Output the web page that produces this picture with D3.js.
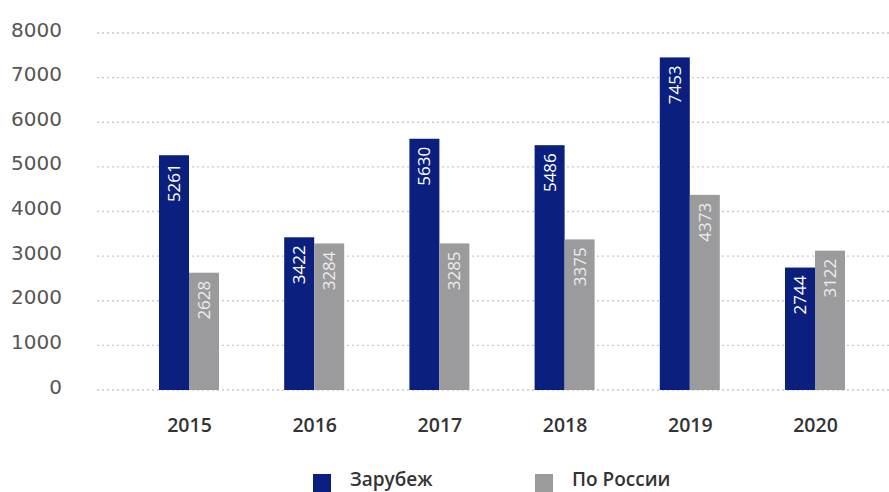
<!DOCTYPE html>
<html><head><meta charset="utf-8">
<script src="https://cdn.jsdelivr.net/npm/d3@7"></script>
<style>body{margin:0;background:#fff;}svg{display:block;}</style>
</head><body>
<svg id="c" width="889" height="492"></svg>
<script>
const years = ["2015","2016","2017","2018","2019","2020"];
const seriesNames = ["Зарубеж","По России"];
const abroad = [5261,3422,5630,5486,7453,2744];
const russia = [2628,3284,3285,3375,4373,3122];
const yTicks = [0,1000,2000,3000,4000,5000,6000,7000,8000];
const colors = ["#0b1f7e","#9b9b9d"];
const labelColors = ["#ffffff","#ececec"];

const svg = d3.select("#c");
const font = "'Open Sans', 'DejaVu Sans', sans-serif";
const y = d3.scaleLinear().domain([0,8000]).range([390,33]);
const x = d3.scalePoint().domain(years).range([189,815]);
const xs = d3.scaleBand().domain(seriesNames).range([-30,30]).padding(0);

// grid
svg.append("g").selectAll("line").data(yTicks).join("line")
  .attr("x1",97).attr("x2",889)
  .attr("y1",d=>y(d)).attr("y2",d=>y(d))
  .attr("stroke","#c8c8c8").attr("stroke-width",1.3).attr("stroke-dasharray","2,3");

// y axis labels
const yAxis = d3.axisLeft(y).tickValues(yTicks).tickSize(0).tickPadding(0).tickFormat(d3.format("d"));
const gy = svg.append("g").attr("transform","translate(62,0)").call(yAxis);
gy.select(".domain").remove();
gy.selectAll("text").attr("font-family","'DejaVu Sans', sans-serif").attr("font-size",20).attr("fill","#555").attr("dy","0.35em").attr("y",-4);

// x axis labels
const xAxis = d3.axisBottom(x).tickSize(0).tickPadding(0);
const gx = svg.append("g").attr("transform","translate(0,418)").call(xAxis);
gx.select(".domain").remove();
gx.selectAll("text").attr("font-family",font).attr("font-size",19.5).attr("font-weight",600).attr("fill","#333").attr("dy","0.35em").attr("y",7);

const data = [abroad, russia];
seriesNames.forEach((s,si)=>{
  const g = svg.append("g");
  g.selectAll("rect").data(years).join("rect")
    .attr("x",d=>x(d)+xs(s))
    .attr("width",xs.bandwidth())
    .attr("y",(d,i)=>y(data[si][i]))
    .attr("height",(d,i)=>y(0)-y(data[si][i]))
    .attr("fill",colors[si]);
  g.selectAll("text").data(years).join("text")
    .attr("transform",(d,i)=>`translate(${x(d)+xs(s)+xs.bandwidth()/2},${y(data[si][i])+8}) rotate(-90)`)
    .attr("text-anchor","end").attr("dy","0.35em")
    .attr("font-family",font).attr("font-size",17)
    .attr("fill",labelColors[si])
    .text((d,i)=>data[si][i]);
});

// legend
const legX = [313,535];
seriesNames.forEach((s,i)=>{
  svg.append("rect").attr("x",legX[i]).attr("y",474).attr("width",18).attr("height",18).attr("fill",colors[i]);
  svg.append("text").attr("x",legX[i]+37).attr("y",486)
    .attr("font-family",font).attr("font-size",19).attr("font-weight",600).attr("fill","#333").text(s);
});
</script>
</body></html>
